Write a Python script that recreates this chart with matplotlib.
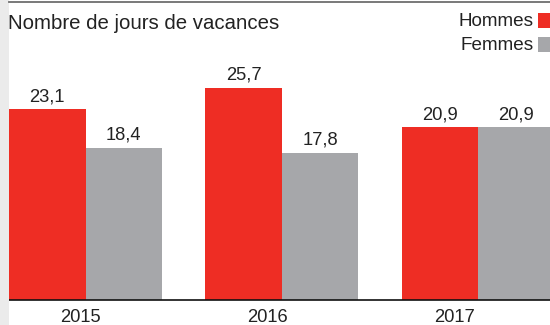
import matplotlib
matplotlib.use("Agg")
import matplotlib.pyplot as plt
import numpy as np

plt.rcParams['font.family'] = ['Liberation Sans', 'DejaVu Sans']

years = ["2015", "2016", "2017"]
hommes = [23.1, 25.7, 20.9]
femmes = [18.4, 17.8, 20.9]
series_names = ["Hommes", "Femmes"]
title = "Nombre de jours de vacances"

RED = "#EE2D24"
GREY = "#A6A7AA"
TEXT = "#222222"

W, H = 550, 325
fig = plt.figure(figsize=(W / 100, H / 100), dpi=100)
fig.patch.set_facecolor("white")

# light side strip and top rule
fig.add_artist(plt.Rectangle((0, 0), 8.5 / W, 1, transform=fig.transFigure,
                             facecolor="#EBEBEB", edgecolor="none"))
fig.add_artist(plt.Line2D([8.5 / W, 1], [1 - 1.5 / H, 1 - 1.5 / H],
                          transform=fig.transFigure, color="#6E6E6E", lw=1.3))

px_per_day = 8.23
left_px, base_px, top_px = 8.5, 299.5, 3
ax = fig.add_axes([left_px / W, 1 - base_px / H, 1 - left_px / W,
                   (base_px - top_px) / H])
ax.set_facecolor("none")

x = np.arange(len(years))
group_step = 196.25
bar_w = 76.5 / group_step
ax.set_xlim((left_px - 85.5) / group_step, (W - 85.5) / group_step)
ax.set_ylim(0, (base_px - top_px) / px_per_day)

b1 = ax.bar(x - bar_w / 2, hommes, bar_w, color=RED, linewidth=0)
b2 = ax.bar(x + bar_w / 2, femmes, bar_w, color=GREY, linewidth=0)

for bars, vals in ((b1, hommes), (b2, femmes)):
    for rect, v in zip(bars, vals):
        ax.annotate(f"{v:.1f}".replace(".", ","),
                    (rect.get_x() + rect.get_width() / 2, v),
                    xytext=(0, 3), textcoords="offset points",
                    ha="center", va="bottom", fontsize=13.2, color=TEXT)

for s in ("top", "right", "left"):
    ax.spines[s].set_visible(False)
ax.spines["bottom"].set_color("#111111")
ax.spines["bottom"].set_linewidth(1.2)
ax.set_yticks([])
ax.set_xticks(x * 0.953 - 0.028)
ax.set_xticklabels(years, fontsize=13.2, color=TEXT)
ax.tick_params(axis="x", length=0, pad=6.5)

fig.text(8.5 / W, 1 - 29 / H, title, fontsize=14.7, color=TEXT,
         ha="left", va="baseline")

# legend: labels right-aligned next to colour squares
for i, (name, col) in enumerate(zip(series_names, (RED, GREY))):
    y_top = 13 + i * 24
    fig.add_artist(plt.Rectangle((538 / W, 1 - (y_top + 15) / H), 14 / W, 15 / H,
                                 transform=fig.transFigure, facecolor=col,
                                 edgecolor="none"))
    fig.text(533.5 / W, 1 - (y_top + 13.5) / H, name, fontsize=13.6, color=TEXT,
             ha="right", va="baseline")

fig.savefig("out.png", dpi=100)
